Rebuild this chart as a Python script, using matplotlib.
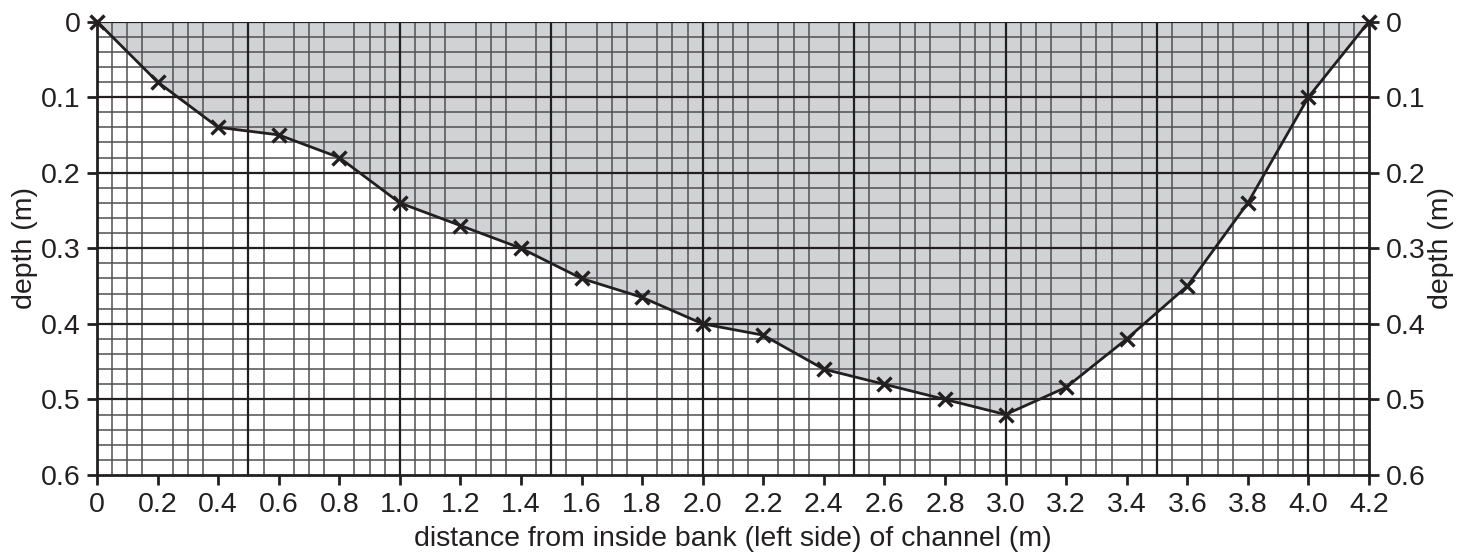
import numpy as np
import matplotlib
matplotlib.use('Agg')
import matplotlib.pyplot as plt
from matplotlib.ticker import MultipleLocator, FixedLocator

plt.rcParams['font.family'] = ['Liberation Sans', 'DejaVu Sans']

# distance from inside bank (m) and measured depth (m)
distance = [0.0, 0.2, 0.4, 0.6, 0.8, 1.0, 1.2, 1.4, 1.6, 1.8, 2.0,
            2.2, 2.4, 2.6, 2.8, 3.0, 3.2, 3.4, 3.6, 3.8, 4.0, 4.2]
depth = [0.0, 0.08, 0.14, 0.15, 0.18, 0.24, 0.27, 0.30, 0.34, 0.365, 0.40,
         0.415, 0.46, 0.48, 0.50, 0.52, 0.484, 0.42, 0.35, 0.24, 0.10, 0.0]

x_ticks = [0.0, 0.2, 0.4, 0.6, 0.8, 1.0, 1.2, 1.4, 1.6, 1.8, 2.0,
           2.2, 2.4, 2.6, 2.8, 3.0, 3.2, 3.4, 3.6, 3.8, 4.0, 4.2]
x_labels = ['0', '0.2', '0.4', '0.6', '0.8', '1.0', '1.2', '1.4', '1.6', '1.8', '2.0',
            '2.2', '2.4', '2.6', '2.8', '3.0', '3.2', '3.4', '3.6', '3.8', '4.0', '4.2']
y_ticks = [0.0, 0.1, 0.2, 0.3, 0.4, 0.5, 0.6]
y_labels = ['0', '0.1', '0.2', '0.3', '0.4', '0.5', '0.6']

ink = '#231f20'
fs = 20.5

fig = plt.figure(figsize=(14.73, 5.60), dpi=100)
ax = fig.add_axes([97 / 1473, 1 - 475 / 560, (1369 - 97) / 1473, (475 - 21.5) / 560])

# shaded channel cross-section
ax.fill_between(distance, 0, depth, color='#d1d2d4', zorder=1, linewidth=0)

# fine graph-paper grid
ax.xaxis.set_minor_locator(MultipleLocator(0.05))
ax.yaxis.set_minor_locator(MultipleLocator(0.02))
ax.grid(which='minor', color='#505052', linewidth=1.1)
ax.tick_params(which='minor', length=0)

# heavy grid lines
for xv in np.arange(0.5, 4.2, 0.5):
    ax.axvline(xv, color=ink, linewidth=1.6, zorder=1.6)
for yv in np.arange(0.1, 0.6, 0.1):
    ax.axhline(yv, color=ink, linewidth=1.6, zorder=1.6)
ax.axhline(0, color=ink, linewidth=1.6, zorder=1.6)

# profile line with crosses
ax.plot(distance, depth, color=ink, linewidth=2, marker='x', markersize=10,
        markeredgewidth=2.4, zorder=3, clip_on=False)

ax.set_xlim(0, 4.2)
ax.set_ylim(0.6, 0)

ax.xaxis.set_major_locator(FixedLocator(x_ticks))
ax.set_xticklabels(x_labels)
ax.yaxis.set_major_locator(FixedLocator(y_ticks))
ax.set_yticklabels(y_labels)
ax.tick_params(which='major', direction='out', length=7, width=2, color=ink,
               labelsize=fs, labelcolor=ink)
ax.tick_params(axis='y', pad=5)
ax.tick_params(axis='x', pad=5)

for side in ['left', 'right', 'bottom']:
    ax.spines[side].set_linewidth(2)
    ax.spines[side].set_color(ink)
ax.spines['top'].set_visible(False)

ax.set_xlabel('distance from inside bank (left side) of channel (m)', fontsize=fs, color=ink, labelpad=6)
ax.set_ylabel('depth (m)', fontsize=fs, color=ink, labelpad=2)

ax2 = ax.twinx()
ax2.set_ylim(0.6, 0)
ax2.yaxis.set_major_locator(FixedLocator(y_ticks))
ax2.set_yticklabels(y_labels)
ax2.tick_params(direction='out', length=7, width=2, color=ink, labelsize=fs, labelcolor=ink, pad=5)
for s in ax2.spines.values():
    s.set_visible(False)
ax2.set_ylabel('depth (m)', fontsize=fs, color=ink, rotation=90, labelpad=2)

fig.savefig('out.png', dpi=100)
